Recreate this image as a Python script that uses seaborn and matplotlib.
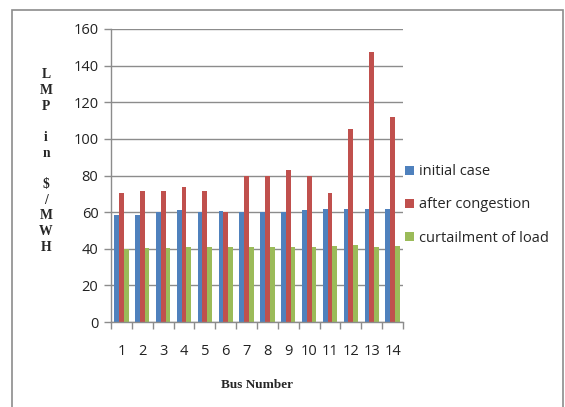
import matplotlib
matplotlib.use("Agg")
import matplotlib.pyplot as plt
from matplotlib.patches import Rectangle
from matplotlib.ticker import FixedLocator
import seaborn as sns
import pandas as pd

# LMP per bus for three operating scenarios
buses = [str(i) for i in range(1, 15)]
initial_case = [58.7, 58.7, 59.9, 61.2, 60.0, 60.6, 60.0, 60.0, 60.0, 61.2, 61.5, 61.5, 61.5, 61.5]
after_congestion = [70.7, 71.6, 71.6, 73.6, 71.6, 59.9, 80.0, 80.0, 82.9, 79.8, 70.7, 105.2, 147.6, 111.8]
curtailment_of_load = [40.0, 40.2, 40.2, 40.9, 40.9, 40.9, 40.9, 40.9, 40.9, 40.9, 41.3, 41.8, 40.9, 41.3]
series_names = ["initial case", "after congestion", "curtailment of load"]
colors = ["#4F81BD", "#C0504D", "#9BBB59"]

df = pd.DataFrame({
    "bus": buses * 3,
    "lmp": initial_case + after_congestion + curtailment_of_load,
    "series": [series_names[0]] * 14 + [series_names[1]] * 14 + [series_names[2]] * 14,
})

sns.set_theme(style="white")
plt.rcParams["font.family"] = ["Open Sans", "DejaVu Sans"]

fig = plt.figure(figsize=(5.65, 4.07), dpi=100)
W, H = 565, 407
ax_left, ax_right, ax_top, ax_bottom = 111, 403, 29, 322
ax = fig.add_axes([ax_left / W, 1 - ax_bottom / H, (ax_right - ax_left) / W, (ax_bottom - ax_top) / H])

sns.barplot(data=df, x="bus", y="lmp", hue="series", palette=colors,
            width=0.68, saturation=1, linewidth=0, edgecolor="none",
            ax=ax, legend=True)

ax.set_ylim(0, 160)
ax.set_xlim(-0.5, 13.5)
ax.set_yticks(range(0, 161, 20))
ax.yaxis.grid(True, color="#8c8c8c", linewidth=1.0)
ax.set_axisbelow(True)
for s in ["top", "right"]:
    ax.spines[s].set_visible(False)
for s in ["left", "bottom"]:
    ax.spines[s].set_color("#8c8c8c")
    ax.spines[s].set_linewidth(1.0)

ax.tick_params(axis="y", which="major", length=5, color="#8c8c8c", width=1,
               labelsize=10.5, pad=4, left=True, labelcolor="#222222")
ax.tick_params(axis="x", which="major", length=0, labelsize=10.5, pad=16, labelcolor="#222222")
ax.xaxis.set_minor_locator(FixedLocator([i - 0.5 for i in range(15)]))
ax.tick_params(axis="x", which="minor", length=5, color="#8c8c8c", width=1, bottom=True)

ax.set_xlabel("Bus Number", family=["Liberation Serif"], fontweight="bold",
              fontsize=9.5, labelpad=14)
ax.set_ylabel("")
fig.text(46 / W, 1 - 161 / H, "L\nM\nP\n\ni\nn\n\n$\n/\nM\nW\nH",
         family=["Liberation Serif"], fontweight="bold", fontsize=9.8,
         ha="center", va="center", linespacing=1.27)

handles, labels = ax.get_legend_handles_labels()
ax.legend(handles, labels, loc="center left",
          bbox_to_anchor=((405 - ax_left) / (ax_right - ax_left), 1 - (205 - ax_top) / (ax_bottom - ax_top)),
          frameon=False, fontsize=10.5, handlelength=0.6, handleheight=0.6,
          handletextpad=0.35, labelspacing=1.25, borderaxespad=0, borderpad=0)

fig.patches.append(Rectangle((12 / W, -0.02), (563 - 12) / W, 1.02 - 10 / H,
                             transform=fig.transFigure, fill=False,
                             edgecolor="#8c8c8c", linewidth=1.2))

fig.savefig("out.png", dpi=100)
